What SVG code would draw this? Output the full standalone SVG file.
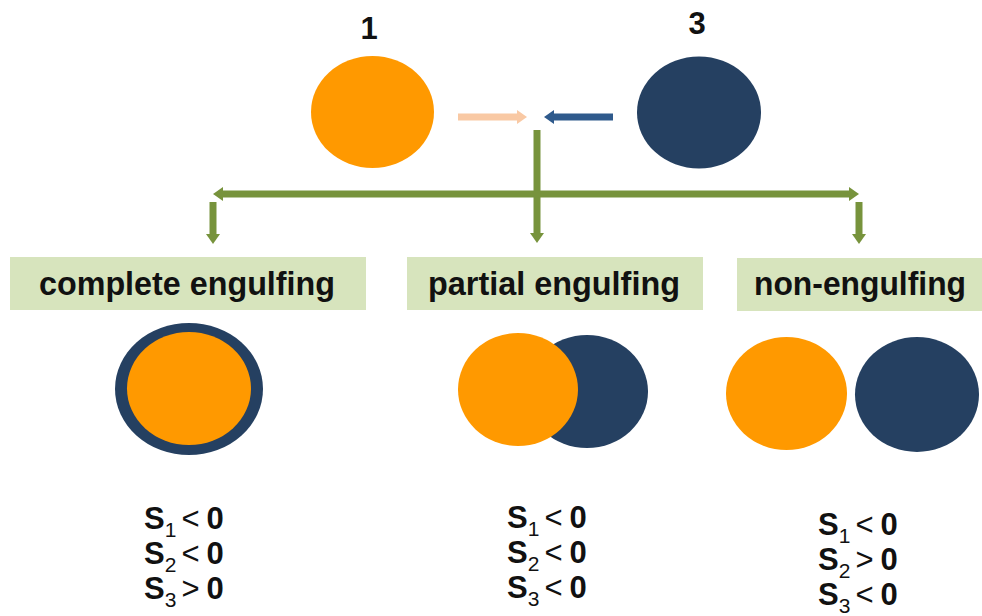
<svg xmlns="http://www.w3.org/2000/svg" width="982" height="616" viewBox="0 0 982 616">
  <defs>
    <style>
      .orange { fill: #FF9900; }
      .navy { fill: #254061; }
      .box { fill: #D7E4BD; }
      .title { font-family: "Liberation Sans", Arial, sans-serif; font-weight: bold; font-size: 33px; fill: #111; }
      .num { font-family: "Liberation Sans", Arial, sans-serif; font-weight: bold; font-size: 31px; fill: #111; }
      .eq { font-family: "Liberation Sans", Arial, sans-serif; font-size: 31px; fill: #111; }
      .eq .s { font-weight: bold; }
      .eq .z { font-weight: bold; }
      .eq .sub { font-size: 21px; }
      .green { stroke: #77933C; stroke-width: 7; fill: none; }
      .peach { stroke: #F9C9A4; stroke-width: 7; fill: none; }
      .blue { stroke: #2F5A8C; stroke-width: 7; fill: none; }
    </style>
    <marker id="headGreen" markerUnits="userSpaceOnUse" markerWidth="10" markerHeight="14" refX="2" refY="7" orient="auto">
      <path d="M0,0 L10,7 L0,14 z" fill="#77933C"/>
    </marker>
    <marker id="headPeach" markerUnits="userSpaceOnUse" markerWidth="10" markerHeight="14" refX="2" refY="7" orient="auto">
      <path d="M0,0 L10,7 L0,14 z" fill="#F9C9A4"/>
    </marker>
    <marker id="headBlue" markerUnits="userSpaceOnUse" markerWidth="10" markerHeight="14" refX="2" refY="7" orient="auto">
      <path d="M0,0 L10,7 L0,14 z" fill="#2F5A8C"/>
    </marker>
  </defs>

  <rect width="982" height="616" fill="#ffffff"/>

  <!-- phase 1 -->
  <g id="phase1">
    <text class="num" x="369" y="39" text-anchor="middle">1</text>
    <ellipse class="orange" cx="372.5" cy="112" rx="61.5" ry="56"/>
  </g>

  <!-- phase 3 -->
  <g id="phase3">
    <text class="num" x="697" y="34" text-anchor="middle">3</text>
    <ellipse class="navy" cx="699" cy="112.5" rx="62" ry="56"/>
  </g>

  <!-- connectors -->
  <g id="connectors">
    <line class="peach" x1="458" y1="117" x2="519" y2="117" marker-end="url(#headPeach)"/>
    <line class="blue" x1="613" y1="117" x2="552" y2="117" marker-end="url(#headBlue)"/>
    <line class="green" x1="537" y1="130" x2="537" y2="235" marker-end="url(#headGreen)"/>
    <line class="green" x1="537" y1="194" x2="221" y2="194" marker-end="url(#headGreen)"/>
    <line class="green" x1="537" y1="194" x2="851" y2="194" marker-end="url(#headGreen)"/>
    <line class="green" x1="213" y1="202" x2="213" y2="236" marker-end="url(#headGreen)"/>
    <line class="green" x1="859" y1="202" x2="859" y2="236" marker-end="url(#headGreen)"/>
  </g>

  <!-- complete engulfing -->
  <g id="complete">
    <rect class="box" x="10" y="257" width="356" height="53"/>
    <text class="title" x="187" y="295" text-anchor="middle" textLength="296" lengthAdjust="spacingAndGlyphs">complete engulfing</text>
    <ellipse class="navy" cx="189" cy="389" rx="74" ry="66"/>
    <ellipse class="orange" cx="189" cy="388.5" rx="62" ry="56.5"/>
    <text class="eq" y="529"><tspan class="s" x="144">S</tspan><tspan class="sub" dy="8">1</tspan><tspan dy="-8" dx="5">&lt;</tspan><tspan class="z" dx="7">0</tspan></text>
    <text class="eq" y="564"><tspan class="s" x="144">S</tspan><tspan class="sub" dy="8">2</tspan><tspan dy="-8" dx="5">&lt;</tspan><tspan class="z" dx="7">0</tspan></text>
    <text class="eq" y="599"><tspan class="s" x="144">S</tspan><tspan class="sub" dy="8">3</tspan><tspan dy="-8" dx="5">&gt;</tspan><tspan class="z" dx="7">0</tspan></text>
  </g>

  <!-- partial engulfing -->
  <g id="partial">
    <rect class="box" x="407" y="257" width="296" height="53"/>
    <text class="title" x="554" y="295" text-anchor="middle" textLength="252" lengthAdjust="spacingAndGlyphs">partial engulfing</text>
    <ellipse class="navy" cx="587" cy="391.5" rx="61" ry="56.5"/>
    <ellipse class="orange" cx="518" cy="389.5" rx="60" ry="56.5"/>
    <text class="eq" y="528"><tspan class="s" x="507">S</tspan><tspan class="sub" dy="8">1</tspan><tspan dy="-8" dx="5">&lt;</tspan><tspan class="z" dx="7">0</tspan></text>
    <text class="eq" y="563"><tspan class="s" x="507">S</tspan><tspan class="sub" dy="8">2</tspan><tspan dy="-8" dx="5">&lt;</tspan><tspan class="z" dx="7">0</tspan></text>
    <text class="eq" y="598"><tspan class="s" x="507">S</tspan><tspan class="sub" dy="8">3</tspan><tspan dy="-8" dx="5">&lt;</tspan><tspan class="z" dx="7">0</tspan></text>
  </g>

  <!-- non-engulfing -->
  <g id="non">
    <rect class="box" x="737" y="258" width="245" height="53"/>
    <text class="title" x="860" y="295" text-anchor="middle" textLength="212" lengthAdjust="spacingAndGlyphs">non-engulfing</text>
    <ellipse class="orange" cx="786.5" cy="393.5" rx="60.5" ry="56.5"/>
    <ellipse class="navy" cx="917" cy="394.5" rx="62" ry="57.5"/>
    <text class="eq" y="535"><tspan class="s" x="818">S</tspan><tspan class="sub" dy="8">1</tspan><tspan dy="-8" dx="5">&lt;</tspan><tspan class="z" dx="7">0</tspan></text>
    <text class="eq" y="570"><tspan class="s" x="818">S</tspan><tspan class="sub" dy="8">2</tspan><tspan dy="-8" dx="5">&gt;</tspan><tspan class="z" dx="7">0</tspan></text>
    <text class="eq" y="605"><tspan class="s" x="818">S</tspan><tspan class="sub" dy="8">3</tspan><tspan dy="-8" dx="5">&lt;</tspan><tspan class="z" dx="7">0</tspan></text>
  </g>
</svg>
